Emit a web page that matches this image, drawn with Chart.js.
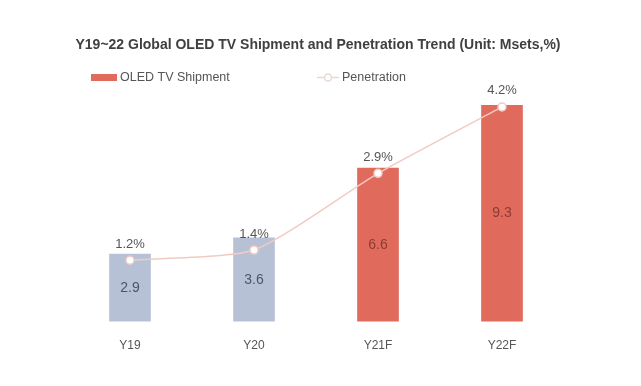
<!DOCTYPE html>
<html>
<head>
<meta charset="utf-8">
<script src="https://cdn.jsdelivr.net/npm/chart.js@4"></script>
<style>
  html, body { margin: 0; padding: 0; background: #fff; }
  #wrap { width: 641px; height: 386px; position: relative; }
</style>
</head>
<body>
<div id="wrap"><canvas id="oledChart" width="641" height="386"></canvas></div>
<script>
// --- data ---
const years = ['Y19', 'Y20', 'Y21F', 'Y22F'];
const shipments = [2.9, 3.6, 6.6, 9.3];        // Msets
const penetration = [1.2, 1.4, 2.9, 4.2];      // %
const barColors = ['#b7c1d6', '#b7c1d6', '#e06b5c', '#e06b5c'];
const barTextColors = ['#4d5568', '#4d5568', '#8e3b31', '#8e3b31'];

const FONT = '"Liberation Sans", Arial, sans-serif';

// title + legend drawn in the top band
const headerPlugin = {
    id: 'header',
    afterDraw(chart) {
        const ctx = chart.ctx;
        ctx.save();
        ctx.textBaseline = 'middle';
        ctx.fillStyle = '#404040';
        ctx.font = 'bold 14px ' + FONT;
        ctx.textAlign = 'center';
        ctx.fillText('Y19~22 Global OLED TV Shipment and Penetration Trend (Unit: Msets,%)', 318, 45);

        ctx.textAlign = 'left';
        ctx.font = '12.5px ' + FONT;
        ctx.fillStyle = '#e06b5c';
        ctx.fillRect(91, 74, 26, 7);
        ctx.fillStyle = '#555';
        ctx.fillText('OLED TV Shipment', 120, 77.5);

        ctx.strokeStyle = '#e8d8d4';
        ctx.lineWidth = 1.5;
        ctx.beginPath();
        ctx.moveTo(317, 77.5);
        ctx.lineTo(339, 77.5);
        ctx.stroke();
        ctx.beginPath();
        ctx.arc(328, 77.5, 3.5, 0, Math.PI * 2);
        ctx.fillStyle = '#fff';
        ctx.fill();
        ctx.stroke();
        ctx.fillStyle = '#555';
        ctx.fillText('Penetration', 342, 77.5);
        ctx.restore();
    }
};

// value labels: shipments inside bars, penetration above points
const labelPlugin = {
    id: 'valueLabels',
    afterDatasetsDraw(chart) {
        const ctx = chart.ctx;
        ctx.save();
        ctx.textAlign = 'center';
        ctx.textBaseline = 'middle';

        const barMeta = chart.getDatasetMeta(1);
        ctx.font = '14px ' + FONT;
        barMeta.data.forEach((bar, i) => {
            ctx.fillStyle = barTextColors[i];
            ctx.fillText(shipments[i].toFixed(1), bar.x, (bar.y + bar.base) / 2);
        });

        const lineMeta = chart.getDatasetMeta(0);
        ctx.font = '13px ' + FONT;
        ctx.fillStyle = '#555';
        lineMeta.data.forEach((pt, i) => {
            ctx.fillText(penetration[i].toFixed(1) + '%', pt.x, pt.y - 16);
        });
        ctx.restore();
    }
};

const ctx = document.getElementById('oledChart');
new Chart(ctx, {
    data: {
        labels: years,
        datasets: [
            {
                type: 'line',
                label: 'Penetration',
                data: penetration,
                yAxisID: 'yPen',
                borderColor: '#f1cbc3',
                borderWidth: 1.5,
                tension: 0.2,
                pointRadius: 4,
                pointBackgroundColor: '#fff',
                pointBorderColor: '#f1cbc3',
                pointBorderWidth: 1.5,
                order: 0
            },
            {
                type: 'bar',
                label: 'OLED TV Shipment',
                data: shipments,
                yAxisID: 'y',
                backgroundColor: barColors,
                barThickness: 41,
                order: 1
            }
        ]
    },
    options: {
        responsive: false,
        animation: false,
        layout: { padding: { left: 68, right: 77, top: 89, bottom: 16 } },
        plugins: {
            legend: { display: false },
            title: { display: false },
            tooltip: { enabled: false }
        },
        scales: {
            x: {
                grid: { display: false, drawTicks: false },
                border: { display: false },
                ticks: { color: '#555', font: { family: FONT, size: 12 }, padding: 17 }
            },
            y: {
                display: false,
                min: 0,
                max: 10
            },
            yPen: {
                display: false,
                position: 'right',
                min: 0,
                max: 4.55
            }
        }
    },
    plugins: [headerPlugin, labelPlugin]
});
</script>
</body>
</html>
